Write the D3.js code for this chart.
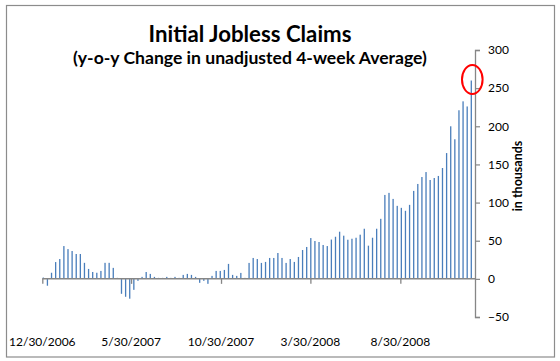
<!DOCTYPE html>
<html>
<head>
<meta charset="utf-8">
<script src="https://cdn.jsdelivr.net/npm/d3@7"></script>
<style>
  html, body { margin: 0; padding: 0; background: #fff; }
  svg { display: block; }
  text { font-family: Lato, "Open Sans", sans-serif; fill: #000; }
</style>
</head>
<body>
<svg id="chart" width="560" height="361"></svg>
<script>
// ---- data ----
const titleText = "Initial Jobless Claims";
const subtitleText = "(y-o-y Change in unadjusted 4-week Average)";
const yAxisTitle = "in thousands";
const firstWeek = "2006-12-30";   // week ending Saturday, weekly categories
const weeklyChange = [
  1.7, -9, 8, 22, 26, 43, 39, 36.5, 32.6, 32.6,
  21, 13, 9, 8, 10.4, 21, 21, 14.4, 1.3, -19.6,
  -23.5, -26, -14.4, -2.6, 2.6, 9, 6.5, 2.6, 1.3, 1.3,
  2.6, 1.3, 2.6, 1.3, 5.2, 6.5, 5.2, 2.6, -5.2, -2.6,
  -6.5, 3.9, 10.4, 10.4, 11.7, 19.6, 5.2, 3.9, 7.8, 1.3,
  20.9, 27.4, 26, 20.9, 22.2, 27.4, 27.4, 33.9, 27.4, 20.9,
  26, 22.2, 28.7, 37.8, 41.8, 53.5, 49.6, 48.3, 44.4, 43,
  51.5, 55.2, 61.8, 56.6, 51.3, 52.6, 53.9, 57.9, 65.7, 43.5,
  53.9, 65.7, 78.7, 110, 112.7, 104.8, 95.7, 93.1, 89.2, 97,
  115.3, 124.4, 133.5, 140, 129.6, 132.2, 134.9, 145.3, 164.9, 200,
  183, 221, 232.7, 226, 260
];
const xTickLabels = ["12/30/2006", "5/30/2007", "10/30/2007", "3/30/2008", "8/30/2008"];
const yTicks = [-50, 0, 50, 100, 150, 200, 250, 300];
const xDomainEnd = "2009-01-04";

// ---- setup ----
const parse = d3.timeParse("%Y-%m-%d");
const parseLabel = d3.timeParse("%m/%d/%Y");
const start = parse(firstWeek);
const data = weeklyChange.map((v, i) => ({ date: d3.timeWeek.offset(start, i), value: v }));

const svg = d3.select("#chart");
const plotLeft = 42.3, plotRight = 475, plotTop = 50, plotBottom = 317;

const x = d3.scaleTime().domain([start, parse(xDomainEnd)]).range([plotLeft, plotRight]);
const y = d3.scaleLinear().domain([-50, 300]).range([plotBottom, plotTop]);
const dayW = x(d3.timeDay.offset(start, 1)) - x(start);

// outer chart border
svg.append("rect")
  .attr("x", 6.5).attr("y", 5.5).attr("width", 548).attr("height", 351.5)
  .attr("fill", "#fff").attr("stroke", "#8c8c8c").attr("stroke-width", 1.2);

// bars
svg.append("g").selectAll("rect").data(data).join("rect")
  .attr("x", d => x(d.date) + dayW * 0.6)
  .attr("width", 1.3)
  .attr("y", d => Math.min(y(d.value), y(0)))
  .attr("height", d => Math.abs(y(d.value) - y(0)))
  .attr("fill", "#4a7ebb");

// x axis baseline with ticks (labels drawn separately)
const xAxis = d3.axisBottom(x)
  .tickValues(xTickLabels.map(parseLabel))
  .tickSize(5)
  .tickFormat("");
const gx = svg.append("g").attr("transform", `translate(0,${y(0)})`).call(xAxis);
gx.select(".domain").attr("stroke", "#868686").attr("stroke-width", 1.5).attr("d", `M${plotLeft},0H${plotRight}`);
gx.selectAll(".tick line").attr("stroke", "#868686").attr("stroke-width", 1.3);

// x tick labels at bottom
svg.append("g").selectAll("text").data(xTickLabels).join("text")
  .attr("x", d => x(parseLabel(d)))
  .attr("y", 346)
  .attr("text-anchor", "middle")
  .attr("font-size", 12)
  .text(d => d);

// y axis on the right
const yAxis = d3.axisRight(y).tickValues(yTicks).tickSize(5).tickPadding(8).tickFormat(d3.format("d"));
const gy = svg.append("g").attr("transform", `translate(${plotRight},0)`).call(yAxis);
gy.select(".domain").attr("stroke", "#868686").attr("stroke-width", 1.3);
gy.selectAll(".tick line").attr("stroke", "#868686").attr("stroke-width", 1.2);
gy.selectAll(".tick text").attr("font-size", 12).attr("font-family", "Lato, sans-serif").attr("fill", "#000");

// y axis title
svg.append("text")
  .attr("transform", `translate(522,176) rotate(-90)`)
  .attr("text-anchor", "middle")
  .attr("font-weight", "bold")
  .attr("font-size", 12.5)
  .text(yAxisTitle);

// titles
function fitText(sel, target) {
  const w = sel.node().getComputedTextLength();
  const fs = parseFloat(sel.attr("font-size"));
  sel.attr("font-size", fs * target / w);
}
const t1 = svg.append("text").attr("x", 250).attr("y", 41.5).attr("text-anchor", "middle")
  .attr("font-weight", "bold").attr("font-size", 22).text(titleText);
fitText(t1, 203);
const t2 = svg.append("text").attr("x", 250).attr("y", 64).attr("text-anchor", "middle")
  .attr("font-weight", "bold").attr("font-size", 16).text(subtitleText);
fitText(t2, 354);

// red highlight ellipse around the latest reading
const last = data[data.length - 1];
svg.append("ellipse")
  .attr("cx", x(last.date) + 2).attr("cy", y(last.value) - 1)
  .attr("rx", 10.3).attr("ry", 14.5)
  .attr("fill", "none").attr("stroke", "#ff0000").attr("stroke-width", 2);
</script>
</body>
</html>
